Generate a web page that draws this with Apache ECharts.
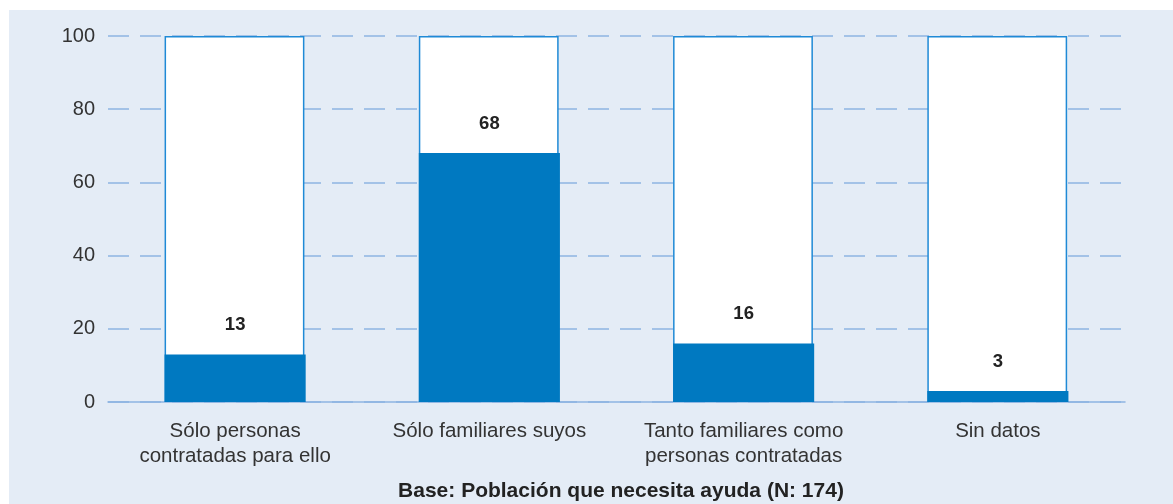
<!DOCTYPE html>
<html>
<head>
<meta charset="utf-8">
<script src="https://cdn.jsdelivr.net/npm/echarts@6/dist/echarts.min.js"></script>
<style>
  html, body { margin: 0; padding: 0; background: #fff; }
  #chart { width: 1173px; height: 504px; }
</style>
</head>
<body>
<div id="chart"></div>
<script>
// datos
var categorias = ['Sólo personas\ncontratadas para ello', 'Sólo familiares suyos', 'Tanto familiares como\npersonas contratadas', 'Sin datos']
var valores = [13, 68, 16, 3]
var totales = [100, 100, 100, 100]
var nota = 'Base: Población que necesita ayuda (N: 174)'

var font = '"Liberation Sans", Arial, sans-serif'
var chart = echarts.init(document.getElementById('chart'))

chart.setOption({
  animation: false,
  textStyle: { fontFamily: font },
  graphic: [
    {
      type: 'rect',
      left: 9, top: 10, z: -10,
      shape: { width: 1164, height: 494 },
      style: { fill: '#e4ecf6' }
    },
    {
      type: 'text',
      x: 621, y: 491,
      style: { text: nota, font: 'bold 21px ' + font, fill: '#222', align: 'center', verticalAlign: 'middle' }
    }
  ],
  grid: { left: 108, right: 48, top: 36, bottom: 102 },
  xAxis: {
    type: 'category',
    data: categorias,
    axisLine: { lineStyle: { color: '#8db4e2', width: 1.5 } },
    axisTick: { show: false },
    axisLabel: { interval: 0, color: '#333', fontSize: 20.5, lineHeight: 25, margin: 17 }
  },
  yAxis: {
    type: 'value',
    min: 0, max: 100, interval: 20,
    axisLine: { show: false },
    axisTick: { show: false },
    axisLabel: { color: '#333', fontSize: 20, margin: 13 },
    splitLine: { lineStyle: { color: '#8db4e2', width: 1.5, type: [21, 11] } }
  },
  series: [
    {
      type: 'bar',
      data: totales,
      barWidth: '55%',
      barGap: '-100%',
      silent: true,
      itemStyle: { color: '#fff', borderColor: '#1f8ad6', borderWidth: 1.5 }
    },
    {
      type: 'bar',
      data: valores,
      barWidth: '55.5%',
      itemStyle: { color: '#0079c1' },
      label: {
        show: true,
        position: 'top',
        distance: 20,
        color: '#222',
        fontSize: 18.5,
        fontWeight: 'bold'
      }
    }
  ]
})
</script>
</body>
</html>
